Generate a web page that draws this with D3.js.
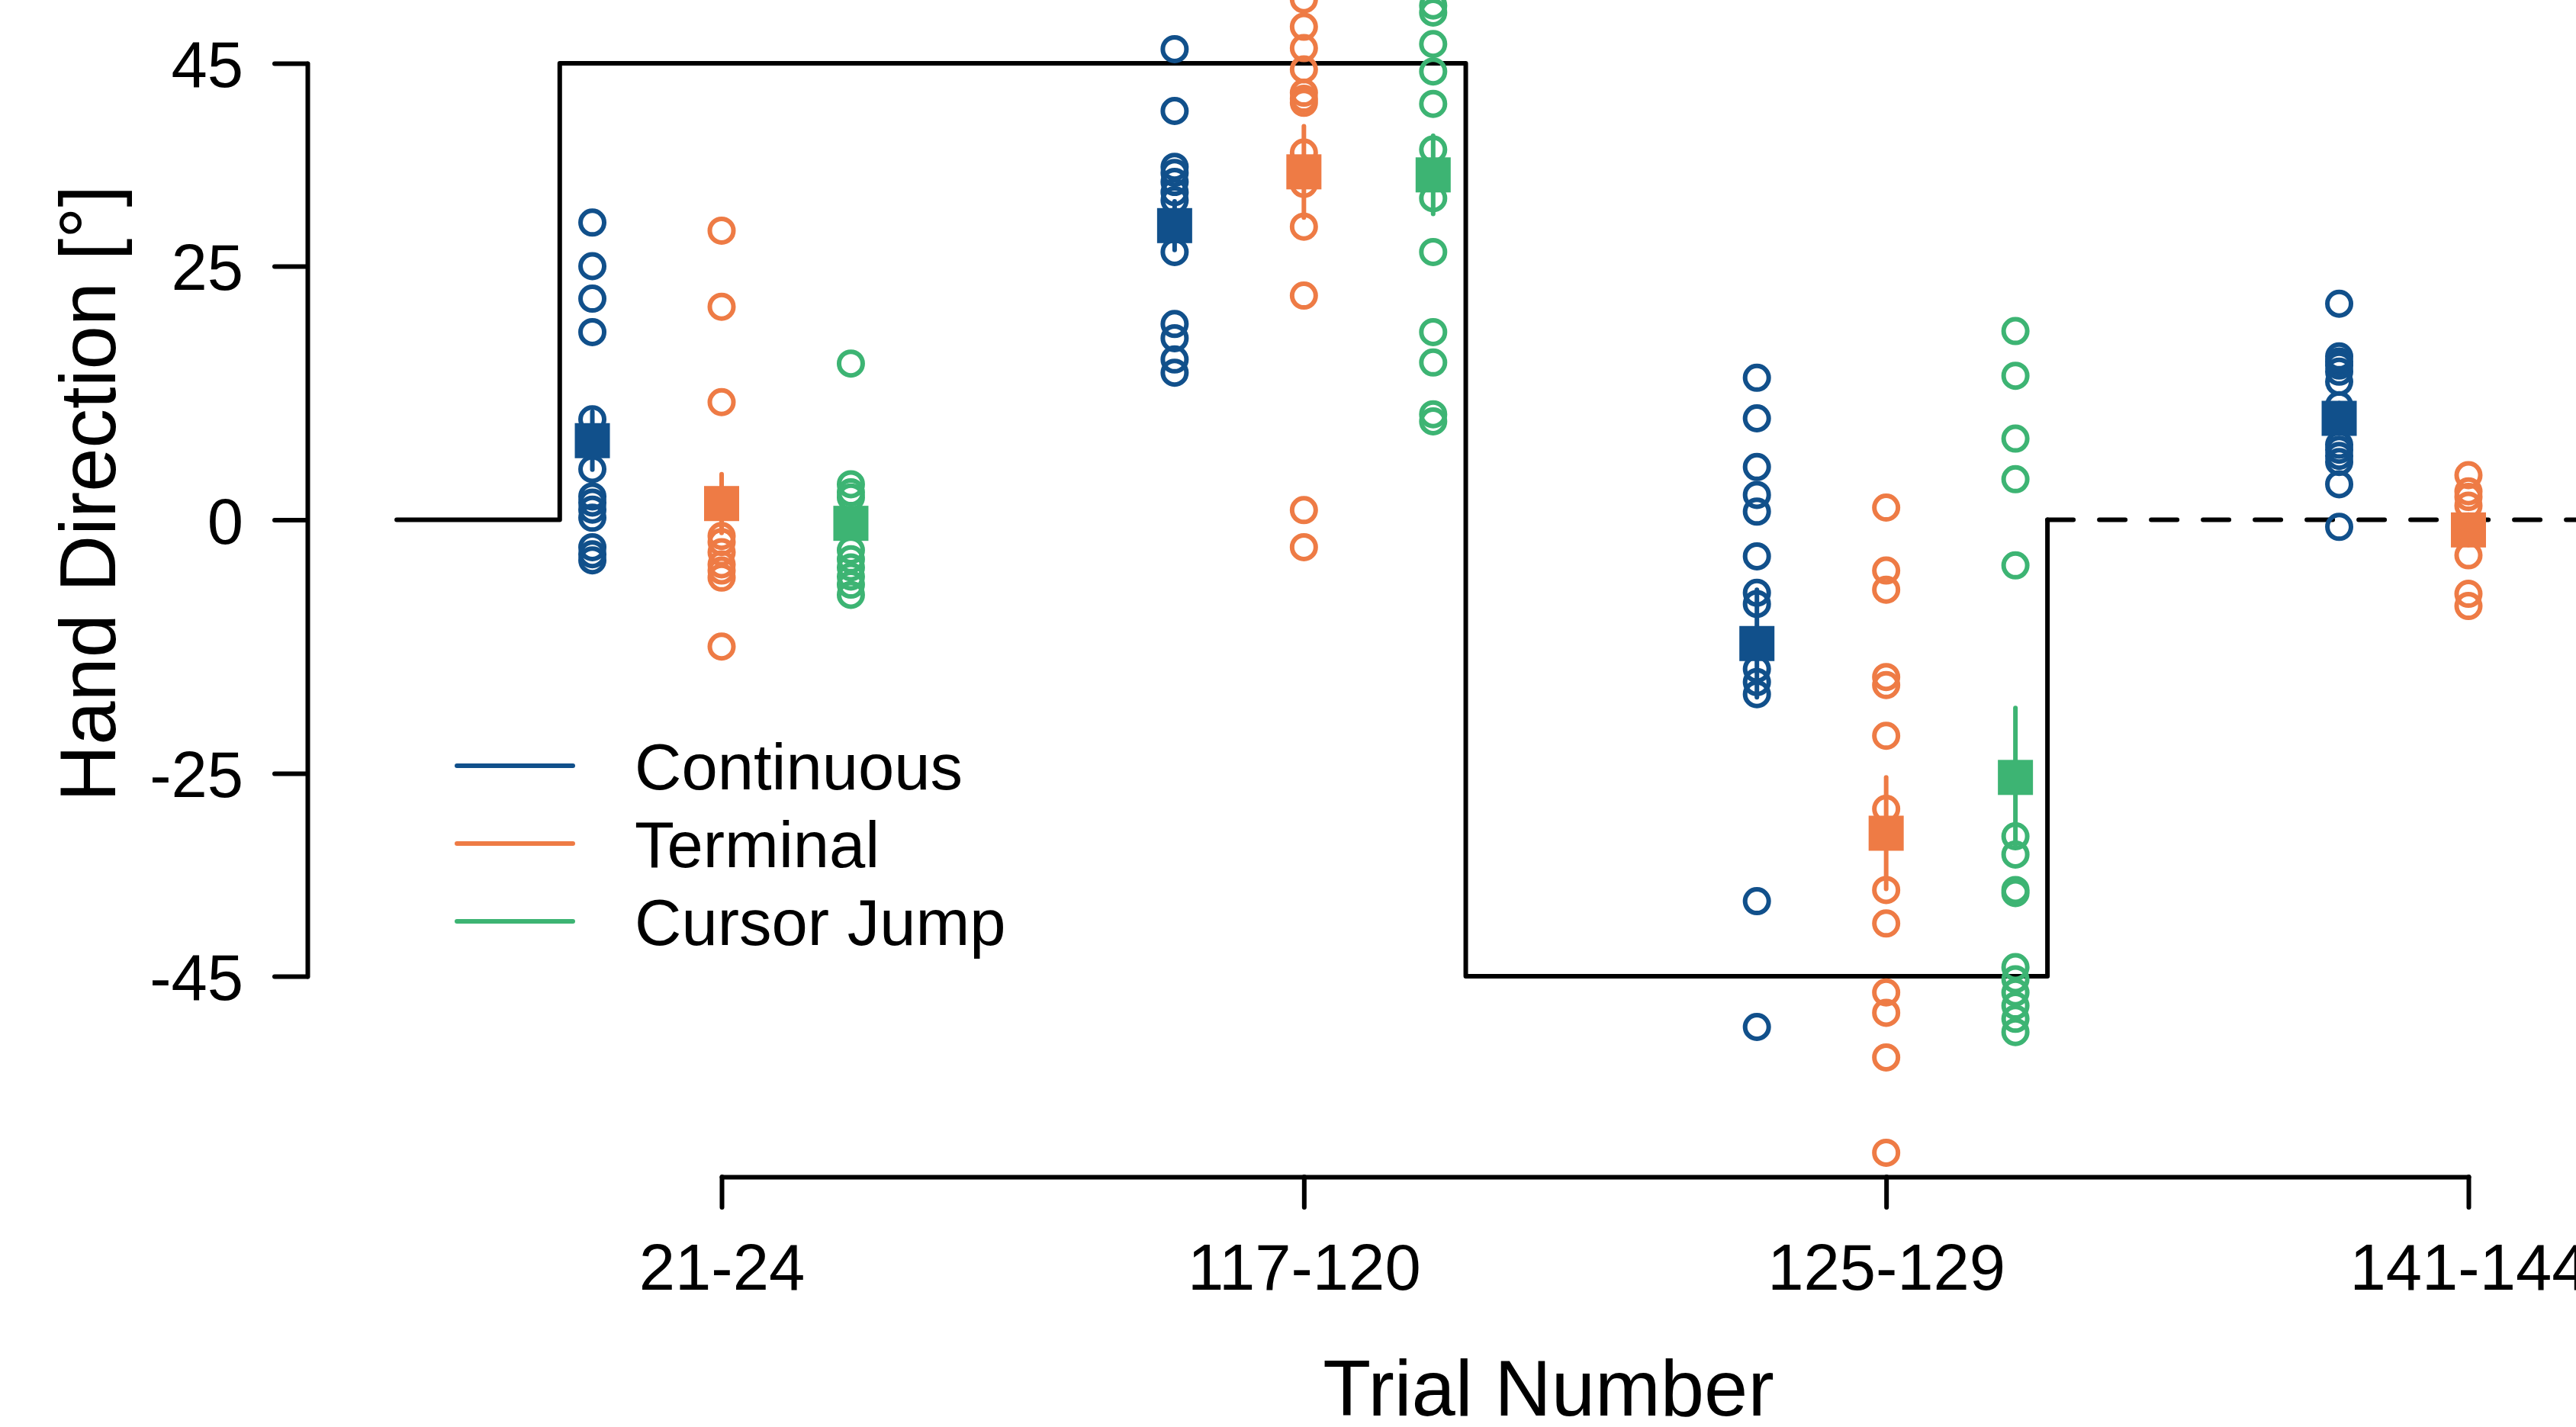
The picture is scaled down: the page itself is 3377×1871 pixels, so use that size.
<!DOCTYPE html>
<html>
<head>
<meta charset="utf-8">
<script src="https://cdn.jsdelivr.net/npm/d3@7"></script>
<style>
  html, body { margin: 0; padding: 0; background: #ffffff; }
  svg { display: block; }
  text { font-family: "Liberation Sans", Arial, Helvetica, sans-serif; fill: #000; }
</style>
</head>
<body>
<svg id="chart" width="3377" height="1871"></svg>
<script>
// ---------------- data ----------------
const trialGroups = ["21-24", "117-120", "125-129", "141-144"];
const conditions = ["Continuous", "Terminal", "Cursor Jump"];
const yTicks = [-45, -25, 0, 25, 45];

// individual hand directions (deg) per trial group
const continuousPts = [
  [29.3, 25.0, 21.8, 18.5, 9.9, 5.0, 2.3, 1.7, 1.0, 0.2, -2.7, -3.4, -4.0],
  [46.4, 40.3, 34.8, 34.2, 33.3, 32.3, 31.5, 26.4, 19.3, 17.9, 15.8, 14.5],
  [14.0, 10.0, 5.2, 2.45, 0.8, -3.6, -7.2, -8.3, -14.7, -16.0, -17.2, -37.6, -50.0],
  [21.3, 16.1, 15.6, 15.2, 14.6, 13.6, 11.3, 7.4, 6.9, 6.3, 5.7, 3.5, -0.7]
];
const terminalPts = [
  [28.5, 21.0, 11.6, -1.6, -2.2, -3.2, -4.4, -5.0, -5.7, -12.5],
  [51.3, 48.6, 46.5, 44.4, 42.1, 41.5, 41.1, 36.2, 33.1, 28.9, 22.1, 0.95, -2.7],
  [1.2, -5.0, -6.9, -15.5, -16.3, -21.3, -28.5, -36.5, -39.8, -46.6, -48.6, -53.0, -62.4],
  [4.4, 2.8, 2.25, 1.4, -3.5, -7.3, -8.5]
];
const cursorJumpPts = [
  [15.4, 3.5, 2.7, 2.2, -3.0, -3.9, -4.7, -5.6, -6.4, -7.4],
  [50.7, 50.0, 46.9, 44.2, 41.0, 36.5, 31.7, 26.4, 18.5, 15.5, 10.4, 9.7],
  [18.6, 14.2, 8.0, 4.0, -4.5, -31.2, -33.0, -36.5, -36.8, -44.1, -45.3, -46.6, -47.9, -49.2, -50.5],
  []
];

// group means and standard errors
const continuousMean = [7.8, 29.0, -12.2, 10.0];
const continuousSE   = [2.85, 2.4, 5.3, 1.5];
const terminalMean   = [1.6, 34.3, -30.9, -1.0];
const terminalSE     = [2.9, 4.5, 5.5, 1.5];
const cursorJumpMean = [-0.35, 34.0, -25.4, null];
const cursorJumpSE   = [1.5, 3.85, 6.85, null];

// perturbation schedule (x in trial-group units, y in deg)
const rotationX = [0.442, 0.722, 0.722, 2.278, 2.278, 3.277, 3.277];
const rotationY = [0, 0, 45, 45, -45, -45, 0];
const washoutX = [3.277, 4.7];
const washoutY = [0, 0];

const colors = ["#11508B", "#EE7B45", "#3DB473"];

// ---------------- drawing ----------------
const svg = d3.select("#chart");
svg.append("rect").attr("width", 3377).attr("height", 1871).attr("fill", "#fff");

const x = d3.scaleLinear().domain([1, 4]).range([946, 3236]);
const y = d3.scaleLinear().domain([-45, 45]).range([1280, 83]);
const offsets = [-0.222, 0, 0.222];
const LW = 6;

const line = d3.line().x(d => x(d[0])).y(d => y(d[1]));

// schedule
svg.append("path")
  .datum(d3.zip(rotationX, rotationY))
  .attr("d", line)
  .attr("fill", "none").attr("stroke", "#000").attr("stroke-width", LW)
  .attr("stroke-linecap", "round").attr("stroke-linejoin", "round");
svg.append("path")
  .datum(d3.zip(washoutX, washoutY))
  .attr("d", line)
  .attr("fill", "none").attr("stroke", "#000").attr("stroke-width", LW)
  .attr("stroke-dasharray", "34,34")
  .attr("stroke-linecap", "round");

// y axis
const yAxis = svg.append("g").attr("transform", "translate(403,0)")
  .call(d3.axisLeft(y).tickValues(yTicks).tickFormat(d => String(d))
    .tickSizeInner(43).tickSizeOuter(0).tickPadding(41));
yAxis.select(".domain").attr("stroke-width", LW).attr("stroke-linecap", "round");
yAxis.selectAll(".tick line").attr("stroke-width", LW).attr("stroke-linecap", "round");
yAxis.selectAll(".tick text").attr("font-size", 85).attr("dy", "0.36em")
  .attr("font-family", "'Liberation Sans', Arial, sans-serif");

// x axis
const xAxis = svg.append("g").attr("transform", "translate(0,1543)")
  .call(d3.axisBottom(x).tickValues([1, 2, 3, 4]).tickFormat(i => trialGroups[i - 1])
    .tickSizeInner(40).tickSizeOuter(0));
xAxis.select(".domain").attr("stroke-width", LW).attr("stroke-linecap", "round");
xAxis.selectAll(".tick line").attr("stroke-width", LW).attr("stroke-linecap", "round");
xAxis.selectAll(".tick text").attr("font-size", 85).attr("y", 148).attr("dy", null)
  .attr("font-family", "'Liberation Sans', Arial, sans-serif");

// points
const allPts = [continuousPts, terminalPts, cursorJumpPts];
const allMean = [continuousMean, terminalMean, cursorJumpMean];
const allSE = [continuousSE, terminalSE, cursorJumpSE];

allPts.forEach((groups, c) => {
  const flat = [];
  groups.forEach((vals, g) => vals.forEach(v => flat.push({ g: g + 1, v })));
  svg.append("g").selectAll("circle").data(flat).enter().append("circle")
    .attr("cx", d => x(d.g + offsets[c]))
    .attr("cy", d => y(d.v))
    .attr("r", 15.5)
    .attr("fill", "none")
    .attr("stroke", colors[c])
    .attr("stroke-width", LW);
});

allMean.forEach((means, c) => {
  const md = means.map((m, g) => ({ g: g + 1, m, se: allSE[c][g] })).filter(d => d.m !== null);
  const grp = svg.append("g");
  grp.selectAll("line").data(md).enter().append("line")
    .attr("x1", d => x(d.g + offsets[c])).attr("x2", d => x(d.g + offsets[c]))
    .attr("y1", d => y(d.m - d.se)).attr("y2", d => y(d.m + d.se))
    .attr("stroke", colors[c]).attr("stroke-width", LW).attr("stroke-linecap", "round");
  grp.selectAll("rect").data(md).enter().append("rect")
    .attr("x", d => x(d.g + offsets[c]) - 23)
    .attr("y", d => y(d.m) - 23)
    .attr("width", 46).attr("height", 46)
    .attr("fill", colors[c]);
});

// legend
const legendY = [1004, 1106, 1208];
const leg = svg.append("g");
conditions.forEach((name, i) => {
  leg.append("line").attr("x1", 599).attr("x2", 751)
    .attr("y1", legendY[i]).attr("y2", legendY[i])
    .attr("stroke", colors[i]).attr("stroke-width", LW).attr("stroke-linecap", "round");
  leg.append("text").attr("x", 832).attr("y", legendY[i] + 31)
    .attr("font-size", 85).text(name);
});

// axis titles
svg.append("text").attr("x", 2030).attr("y", 1856).attr("text-anchor", "middle")
  .attr("font-size", 103).text("Trial Number");
svg.append("text").attr("transform", "translate(151,647) rotate(-90)")
  .attr("text-anchor", "middle").attr("font-size", 103).text("Hand Direction [°]");
</script>
</body>
</html>
